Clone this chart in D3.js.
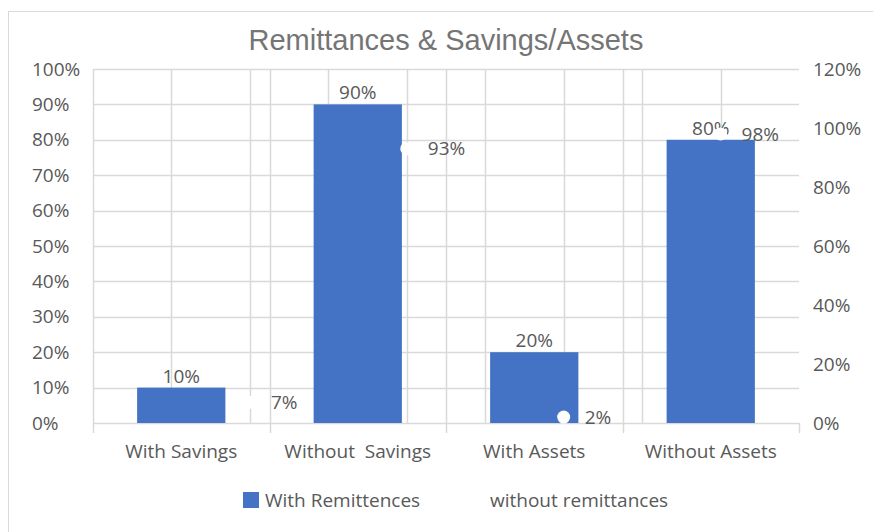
<!DOCTYPE html>
<html>
<head>
<meta charset="utf-8">
<script src="https://cdn.jsdelivr.net/npm/d3@7"></script>
<style>
  html, body { margin: 0; padding: 0; background: #fff; }
  svg { display: block; }
  text { font-family: "Open Sans", "DejaVu Sans", sans-serif; fill: #595959; }
</style>
</head>
<body>
<svg id="chart" width="873" height="532"></svg>
<script>
// Categories and series values
const categories = ["With Savings", "Without  Savings", "With Assets", "Without Assets"];
const withRemittances = [0.10, 0.90, 0.20, 0.80];
const withoutRemittances = [0.07, 0.93, 0.02, 0.98];
const withoutRemittancesX = [1, 2, 3, 4];
const leftTicks = [0, 0.1, 0.2, 0.3, 0.4, 0.5, 0.6, 0.7, 0.8, 0.9, 1.0];
const rightTicks = [0, 0.2, 0.4, 0.6, 0.8, 1.0, 1.2];
const secondaryXTicks = [0.5, 1, 1.5, 2, 2.5, 3, 3.5, 4];
const seriesNames = ["With Remittences", "without remittances"];

const svg = d3.select("#chart");
const blue = "#4472c4";
const grid = "#d9d9d9";
const pct = d3.format(".0%");
const fs = "19px";

const plot = { left: 93, right: 799, top: 69, bottom: 423 };

const x = d3.scaleBand().domain(categories).range([plot.left, plot.right]).paddingInner(0).paddingOuter(0);
const x2 = d3.scaleLinear().domain([0, 4.5]).range([plot.left, plot.right]);
const yL = d3.scaleLinear().domain([0, 1]).range([plot.bottom, plot.top]);
const yR = d3.scaleLinear().domain([0, 1.2]).range([plot.bottom, plot.top]);

// Chart frame
svg.append("rect")
  .attr("x", 8.5).attr("y", 11.5).attr("width", 900).attr("height", 600)
  .attr("fill", "#fff").attr("stroke", "#d9d9d9");

// Title
svg.append("text")
  .attr("x", 446).attr("y", 40).attr("dy", "0.35em")
  .attr("text-anchor", "middle")
  .style("font-family", "'Liberation Sans', Arial, sans-serif")
  .style("font-size", "29px")
  .style("fill", "#757575")
  .text("Remittances & Savings/Assets");

// Horizontal gridlines
svg.append("g").selectAll("line").data(leftTicks).join("line")
  .attr("x1", plot.left).attr("x2", plot.right)
  .attr("y1", d => Math.round(yL(d)) + 0.5).attr("y2", d => Math.round(yL(d)) + 0.5)
  .attr("stroke", grid).attr("stroke-width", 1.5);

// Vertical gridlines from the secondary horizontal axis
svg.append("g").selectAll("line").data(secondaryXTicks).join("line")
  .attr("x1", d => Math.round(x2(d)) + 0.5).attr("x2", d => Math.round(x2(d)) + 0.5)
  .attr("y1", plot.top).attr("y2", plot.bottom)
  .attr("stroke", grid).attr("stroke-width", 1.5);

// Category boundaries: gridlines plus tick marks below the baseline
const bounds = categories.map(c => x(c)).concat([x.range()[1]]);
svg.append("g").selectAll("line").data(bounds).join("line")
  .attr("x1", d => Math.round(d) + 0.5).attr("x2", d => Math.round(d) + 0.5)
  .attr("y1", (d, i) => i < bounds.length - 1 ? plot.top : plot.bottom)
  .attr("y2", plot.bottom + 10)
  .attr("stroke", grid).attr("stroke-width", 1.5);

// Left axis labels
svg.append("g").selectAll("text").data(leftTicks).join("text")
  .attr("x", 32).attr("y", d => yL(d)).attr("dy", "0.35em")
  .style("font-size", fs)
  .text(d => pct(d));

// Right axis labels
svg.append("g").selectAll("text").data(rightTicks).join("text")
  .attr("x", 813).attr("y", d => yR(d)).attr("dy", "0.35em")
  .style("font-size", fs)
  .text(d => pct(d));

// Category labels
svg.append("g").selectAll("text").data(categories).join("text")
  .attr("x", d => x(d) + x.bandwidth() / 2).attr("y", 451).attr("dy", "0.35em")
  .attr("text-anchor", "middle")
  .style("font-size", fs)
  .style("white-space", "pre")
  .text(d => d);

// Bars: with remittances
const barW = x.bandwidth() * 0.5;
svg.append("g").selectAll("rect").data(withRemittances).join("rect")
  .attr("x", (d, i) => x(categories[i]) + (x.bandwidth() - barW) / 2)
  .attr("width", barW)
  .attr("y", d => yL(d))
  .attr("height", d => yL(0) - yL(d))
  .attr("fill", blue);

svg.append("g").selectAll("text").data(withRemittances).join("text")
  .attr("x", (d, i) => x(categories[i]) + x.bandwidth() / 2)
  .attr("y", d => yL(d) - 5)
  .attr("text-anchor", "middle")
  .style("font-size", fs)
  .text(d => pct(d));

// Markers: without remittances (secondary axes)
svg.append("g").selectAll("circle").data(withoutRemittances).join("circle")
  .attr("cx", (d, i) => x2(withoutRemittancesX[i]))
  .attr("cy", d => yR(d))
  .attr("r", 6.5)
  .attr("fill", "#fff");

svg.append("g").selectAll("text").data(withoutRemittances).join("text")
  .attr("x", (d, i) => x2(withoutRemittancesX[i]) + 21)
  .attr("y", d => yR(d)).attr("dy", "0.35em")
  .style("font-size", fs)
  .text(d => pct(d));

// Legend
const legend = svg.append("g");
legend.append("rect").attr("x", 243).attr("y", 492).attr("width", 16).attr("height", 16).attr("fill", blue);
legend.append("text").attr("x", 265).attr("y", 500).attr("dy", "0.35em").style("font-size", fs).text(seriesNames[0]);
legend.append("circle").attr("cx", 476).attr("cy", 500).attr("r", 6.5).attr("fill", "#fff");
legend.append("text").attr("x", 490).attr("y", 500).attr("dy", "0.35em").style("font-size", fs).text(seriesNames[1]);
</script>
</body>
</html>
